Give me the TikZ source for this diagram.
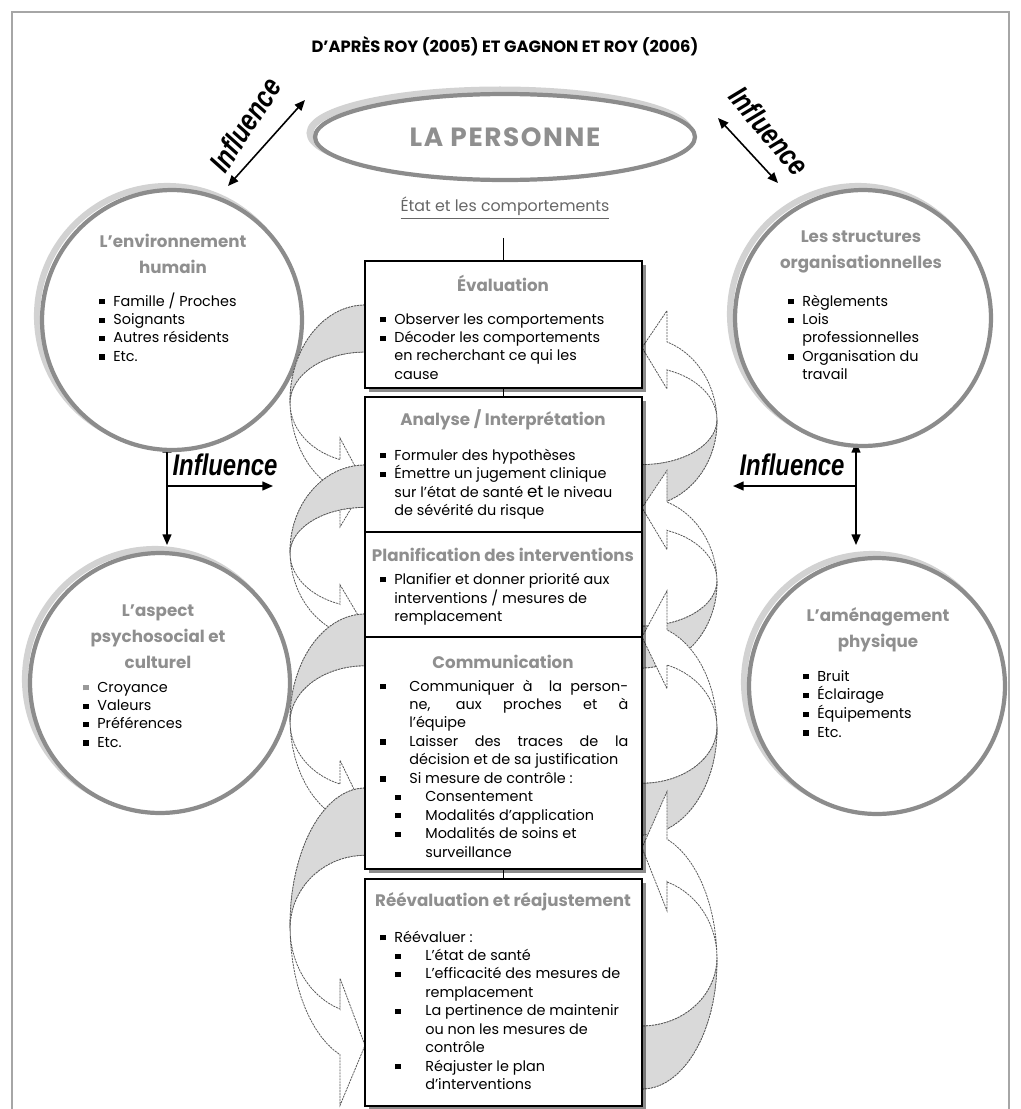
\documentclass[tikz,border=0pt]{standalone}
\usepackage{fontspec}
\setmainfont{Poppins}
\newfontfamily\inflfont{Liberation Sans}
\usepackage{graphicx}
\usetikzlibrary{arrows.meta,positioning,shapes.geometric,shadows}
\definecolor{ringgray}{HTML}{8C8C8C}
\definecolor{ringshade}{HTML}{D2D2D2}
\definecolor{headgray}{HTML}{8F8F8F}
\definecolor{backgray}{HTML}{D9D9D9}
\definecolor{framegray}{HTML}{A6A6A6}
\newcommand{\sq}{\rule[0.12em]{0.36em}{0.36em}}
\newcommand{\li}[1]{\makebox[#1][l]{\sq}}
\newcommand{\bodyfont}{\fontsize{8.2}{10.5}\selectfont}
\tikzset{
  ring/.style={circle,draw=ringgray,line width=2.4pt,fill=white,inner sep=0pt},
  shade/.style={draw=ringshade,line width=3.5pt},
  stage/.style={draw=black,line width=0.9pt,fill=white,minimum width=5.54cm,inner sep=0pt,
    drop shadow={shadow xshift=2.5pt,shadow yshift=-2.5pt,fill=black,opacity=0.45}},
  stitle/.style={font=\fontsize{9.5}{11}\selectfont\bfseries,text=headgray,inner sep=0pt},
  ctitle/.style={font=\fontsize{9.5}{14.7}\selectfont\bfseries,text=headgray,align=center,inner sep=0pt},
  body/.style={font=\bodyfont,inner sep=0pt,anchor=base west},
  infl/.style={font=\inflfont\fontsize{17}{17}\selectfont\bfseries\itshape,inner sep=0pt},
  dbl/.style={{Triangle[length=6pt,width=5pt]}-{Triangle[length=6pt,width=5pt]},line width=0.9pt},
  one/.style={-{Triangle[length=6pt,width=5pt]},line width=0.9pt},
  cline/.style={draw=black!65,line width=0.45pt,dash pattern=on 1.2pt off 0.5pt},
  cback/.style={fill=backgray},
}
\begin{document}
\begin{tikzpicture}[x=0.02cm,y=-0.02cm]
  \useasboundingbox (0,0) rectangle (1021,1109);
  \draw[framegray,line width=0.6pt] (12,1109) -- (12,12) -- (1009,12) -- (1009,1109);
  % titre
  \node[font=\fontsize{9.3}{11}\selectfont\bfseries] (src) at (505,46) {D’APRÈS ROY (2005) ET GAGNON ET ROY (2006)};
  % la personne
  \draw[shade,line width=4pt] (500,133) ellipse [x radius=3.8cm,y radius=0.86cm];
  \node[ellipse,draw=ringgray,line width=2.4pt,fill=white,minimum width=7.6cm,minimum height=1.72cm,
    font=\fontsize{15}{15}\selectfont\bfseries\addfontfeatures{LetterSpace=6},text=headgray] (pers) at (505,137) {LA PERSONNE};
  \node[font=\fontsize{9}{11}\selectfont,text=black!60] (etat) at (505,208) {\underline{État et les comportements}};
  % influences
  \coordinate (i1a) at (228,186); \coordinate (i1b) at (305,100);
  \coordinate (i2a) at (718,118); \coordinate (i2b) at (778,183);
  \draw[dbl] (i1a) -- (i1b);
  \draw[dbl] (i2a) -- (i2b);
  \node[infl,rotate=57] (inf1) at (245,125) {\scalebox{0.8}[1]{Influence}};
  \node[infl,rotate=-50] (inf2) at (769,131) {\scalebox{0.8}[1]{Influence}};
  \coordinate (i3t) at (167,442); \coordinate (i3b) at (167,545); \coordinate (i3c) at (167,486); \coordinate (i3r) at (273,486);
  \coordinate (i4t) at (856,442); \coordinate (i4b) at (856,545); \coordinate (i4c) at (856,486); \coordinate (i4l) at (733,486);
  \draw[dbl] (i3t) -- (i3b); \draw[one] (i3c) -- (i3r);
  \draw[dbl] (i4t) -- (i4b); \draw[one] (i4c) -- (i4l);
  \node[infl] (inf3) at (225,465) {\scalebox{0.8}[1]{Influence}};
  \node[infl] (inf4) at (792,465) {\scalebox{0.8}[1]{Influence}};
  % cercles
  \draw[shade] (167,316) circle [radius=2.6cm];
  \draw[shade] (858,314) circle [radius=2.56cm];
  \draw[shade] (155,679) circle [radius=2.6cm];
  \draw[shade] (872,682) circle [radius=2.56cm];
  \node[ring,minimum size=5.2cm] (env) at (172,320) {};
  \node[ring,minimum size=5.12cm] (org) at (863,318) {};
  \node[ring,minimum size=5.2cm] (psy) at (160,683) {};
  \node[ring,minimum size=5.12cm] (amen) at (877,686) {};
  \node[ctitle] (envh) at (173,254) {L’environnement\\humain};
  \node[ctitle] (orgh) at (861,252) {Les structures\\organisationnelles};
  \node[ctitle] (psyh) at (158,637) {L’aspect\\psychosocial et\\culturel};
  \node[ctitle] (amenh) at (878,630) {L’aménagement\\physique};
  \node[body] (envl) at (99,306) {\begin{tabular}[t]{@{}l@{}}
    \li{0.28cm}Famille / Proches\\ \li{0.28cm}Soignants\\ \li{0.28cm}Autres résidents\\ \li{0.28cm}Etc.\end{tabular}};
  \node[body] (orgl) at (788,306) {\begin{tabular}[t]{@{}l@{}}
    \li{0.28cm}Règlements\\ \li{0.28cm}Lois\\ \hspace*{0.28cm}professionnelles\\ \li{0.28cm}Organisation du\\ \hspace*{0.28cm}travail\end{tabular}};
  \node[body] (psyl) at (83,692) {\begin{tabular}[t]{@{}l@{}}
    {\color{black!40}\li{0.28cm}}Croyance\\ \li{0.28cm}Valeurs\\ \li{0.28cm}Préférences\\ \li{0.28cm}Etc.\end{tabular}};
  \node[body] (amenl) at (803,681) {\begin{tabular}[t]{@{}l@{}}
    \li{0.28cm}Bruit\\ \li{0.28cm}Éclairage\\ \li{0.28cm}Équipements\\ \li{0.28cm}Etc.\end{tabular}};
  % fleches courbes gauche
  \foreach \ty/\sc in {305/1.0,465/0.9,614/1.1,788/1.43}{
    \filldraw[cline,fill=white] plot[domain=0:160.5,samples=30] ({365-75*sin(\x)},{\ty+\sc*(96-96*cos(\x))})
      -- (340,{\ty+\sc*222}) -- (365,{\ty+\sc*180}) -- (340,{\ty+\sc*133}) -- (340,{\ty+\sc*154.6})
      -- plot[domain=0:70.5,samples=15] ({365-75*sin(160.5-\x)},{\ty+\sc*(98-60*cos(160.5-\x))})
      -- plot[domain=0:90,samples=20] ({365-75*sin(90-\x)},{\ty+\sc*(98-51*cos(90-\x))}) -- cycle;
    \filldraw[cline,cback] plot[domain=0:90,samples=20] ({365-75*sin(\x)},{\ty+\sc*(96-96*cos(\x))})
      -- plot[domain=0:90,samples=20] ({365-75*sin(90-\x)},{\ty+\sc*(98-51*cos(90-\x))}) -- cycle;
  }
  % fleches courbes droite
  \foreach \by/\sc in {506/0.88,668/0.89,835/1.1,1089/1.34}{
    \filldraw[cline,fill=white] plot[domain=0:160.5,samples=30] ({642+75*sin(\x)},{\by-\sc*(96-96*cos(\x))})
      -- (667,{\by-\sc*222}) -- (642,{\by-\sc*180}) -- (667,{\by-\sc*133}) -- (667,{\by-\sc*154.6})
      -- plot[domain=0:70.5,samples=15] ({642+75*sin(160.5-\x)},{\by-\sc*(98-60*cos(160.5-\x))})
      -- plot[domain=0:90,samples=20] ({642+75*sin(90-\x)},{\by-\sc*(98-51*cos(90-\x))}) -- cycle;
    \filldraw[cline,cback] plot[domain=0:90,samples=20] ({642+75*sin(\x)},{\by-\sc*(96-96*cos(\x))})
      -- plot[domain=0:90,samples=20] ({642+75*sin(90-\x)},{\by-\sc*(98-51*cos(90-\x))}) -- cycle;
  }
  % etapes
  \node[stage,minimum height=2.54cm] (eval) at (503.5,324.5) {};
  \node[stage,minimum height=2.70cm] (anal) at (503.5,464.5) {};
  \node[stage,minimum height=2.10cm] (plan) at (503.5,584.5) {};
  \node[stage,minimum height=4.64cm] (comm) at (503.5,753) {};
  \node[stage,minimum height=4.54cm] (reev) at (503.5,992.5) {};
  \draw[line width=0.8pt] ([yshift=-0.25cm]etat.south -| eval.north) -- (eval.north);
  \draw[line width=0.8pt] (eval) -- (anal);
  \draw[line width=0.8pt] (comm) -- (reev);
  \node[stitle] (evalh) at (503,283) {Évaluation};
  \node[stitle] (analh) at (503,420) {Analyse / Interprétation};
  \node[stitle] (planh) at (503,555) {Planification des interventions};
  \node[stitle] (commh) at (503,662) {Communication};
  \node[stitle] (reevh) at (503,902) {Réévaluation et réajustement};
  \node[body] (evall) at (380,324) {\begin{tabular}[t]{@{}l@{}}
    \li{0.28cm}Observer les comportements\\ \li{0.28cm}Décoder les comportements\\
    \hspace*{0.28cm}en recherchant ce qui les\\ \hspace*{0.28cm}cause\end{tabular}};
  \node[body] (anall) at (380,460) {\begin{tabular}[t]{@{}l@{}}
    \li{0.28cm}Formuler des hypothèses\\ \li{0.28cm}Émettre un jugement clinique\\
    \hspace*{0.28cm}sur l’état de santé {\fontsize{9.5}{10}\selectfont et} le niveau\\ \hspace*{0.28cm}de sévérité du risque\end{tabular}};
  \node[body] (planl) at (380,584) {\begin{tabular}[t]{@{}l@{}}
    \li{0.28cm}Planifier et donner priorité aux\\ \hspace*{0.28cm}interventions / mesures de\\
    \hspace*{0.28cm}remplacement\end{tabular}};
  \node[body] (comml) at (380,691) {\begin{tabular}[t]{@{}l@{}}
    \li{0.58cm}\makebox[4.38cm][s]{Communiquer à\ \ la person-}\\
    \hspace*{0.58cm}\makebox[4.38cm][s]{ne, aux proches et à}\\
    \hspace*{0.58cm}l’équipe\\
    \li{0.58cm}\makebox[4.38cm][s]{Laisser des traces de la}\\
    \hspace*{0.58cm}décision et de sa justification\\
    \li{0.58cm}Si mesure de contrôle :\\
    \hspace*{0.3cm}\li{0.6cm}Consentement\\
    \hspace*{0.3cm}\li{0.6cm}Modalités d’application\\
    \hspace*{0.3cm}\li{0.6cm}Modalités de soins et\\
    \hspace*{0.9cm}surveillance\end{tabular}};
  \node[body] (reevl) at (380,942) {\begin{tabular}[t]{@{}l@{}}
    \li{0.28cm}Réévaluer :\\
    \hspace*{0.3cm}\li{0.6cm}L’état de santé\\
    \hspace*{0.3cm}\li{0.6cm}L’efficacité des mesures de\\
    \hspace*{0.9cm}remplacement\\
    \hspace*{0.3cm}\li{0.6cm}La pertinence de maintenir\\
    \hspace*{0.9cm}ou non les mesures de\\
    \hspace*{0.9cm}contrôle\\
    \hspace*{0.3cm}\li{0.6cm}Réajuster le plan\\
    \hspace*{0.9cm}d’interventions\end{tabular}};
\end{tikzpicture}
\end{document}
